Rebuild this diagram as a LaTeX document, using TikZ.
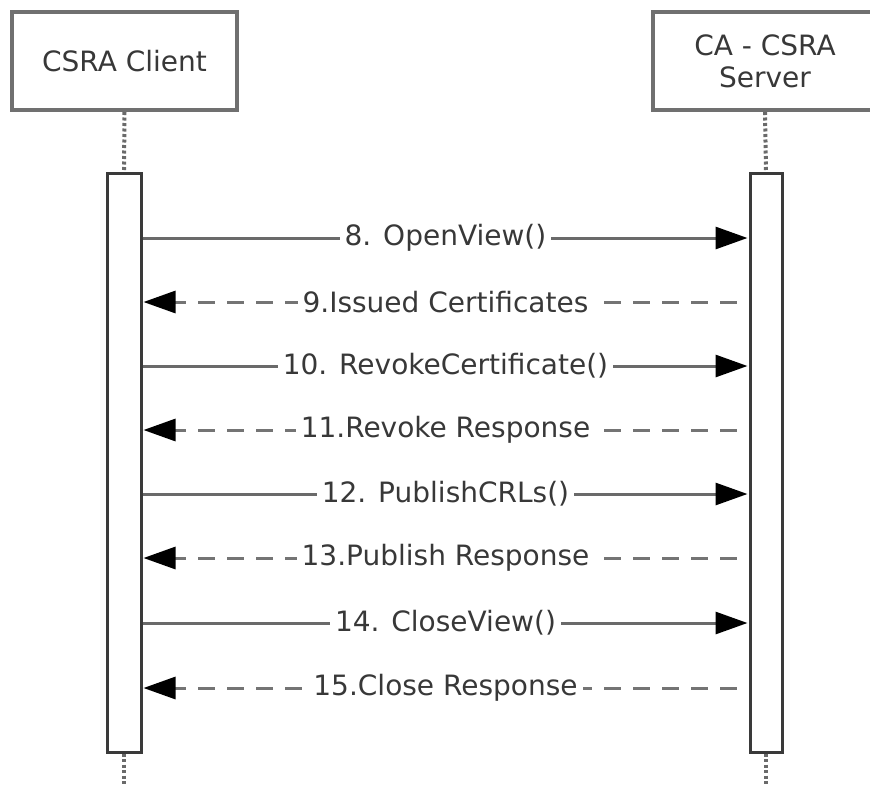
\documentclass[tikz,border=0pt]{standalone}
\usepackage{fontspec}
\setmainfont{DejaVu Sans}
\usetikzlibrary{arrows.meta}
\definecolor{boxgray}{HTML}{707070}
\definecolor{linegray}{HTML}{6A6A6A}
\definecolor{dashgray}{HTML}{747474}
\definecolor{bardark}{HTML}{3A3A3A}
\definecolor{txtgray}{HTML}{383838}
\tikzset{
  actor/.style={draw=boxgray, line width=4pt, fill=white, minimum height=98pt, align=center, text=txtgray, font=\fontsize{28}{32}\selectfont, inner sep=0pt},
  actbar/.style={draw=bardark, line width=3pt, fill=white, inner sep=0pt},
  lifeline/.style={draw=linegray, line width=4pt, dash pattern=on 3pt off 2.5pt},
  call/.style={draw=linegray, line width=3pt, -{Triangle[length=32pt,width=22pt,color=black]}, shorten >=1pt},
  reply/.style={call, draw=dashgray, dash pattern=on 17pt off 12pt, dash phase=17pt},
  msg/.style={fill=white, text=txtgray, font=\fontsize{28}{32}\selectfont, inner sep=5pt},
}
\begin{document}
\begin{tikzpicture}[x=1pt,y=-1pt]
\useasboundingbox (0,0) rectangle (870,785);
% actors
\node[actor, minimum width=225pt] (client) at (124.5,61) {CSRA Client};
\node[actor, minimum width=224pt] (server) at (765,61) {CA - CSRA\\Server};
% activation bars
\node[actbar, minimum width=34pt, minimum height=579pt] (barL) at (124,462.5) {};
\node[actbar, minimum width=32pt, minimum height=579pt] (barR) at (766,462.5) {};
% lifelines
\coordinate (endL) at (124,790);
\coordinate (endR) at (766,790);
\draw[lifeline] (client.south) -- (barL.north);
\draw[lifeline] (server.south) -- (barR.north);
\draw[lifeline] (barL.south) -- (endL);
\draw[lifeline] (barR.south) -- (endR);
% messages
\foreach \i/\y in {8/238,9/302,10/366,11/430,12/494,13/558,14/623,15/688}{
  \coordinate (L\i) at (barL.east |- 0,\y);
  \coordinate (R\i) at (barR.west |- 0,\y);
}
\draw[call] (L8) -- node[msg] (m8) {8. OpenView()} (R8);
\draw[reply] (R9) -- node[msg] (m9) {9.Issued Certificates} (L9);
\draw[call] (L10) -- node[msg] (m10) {10. RevokeCertificate()} (R10);
\draw[reply] (R11) -- node[msg] (m11) {11.Revoke Response} (L11);
\draw[call] (L12) -- node[msg] (m12) {12. PublishCRLs()} (R12);
\draw[reply] (R13) -- node[msg] (m13) {13.Publish Response} (L13);
\draw[call] (L14) -- node[msg] (m14) {14. CloseView()} (R14);
\draw[reply] (R15) -- node[msg] (m15) {15.Close Response} (L15);
\end{tikzpicture}
\end{document}
